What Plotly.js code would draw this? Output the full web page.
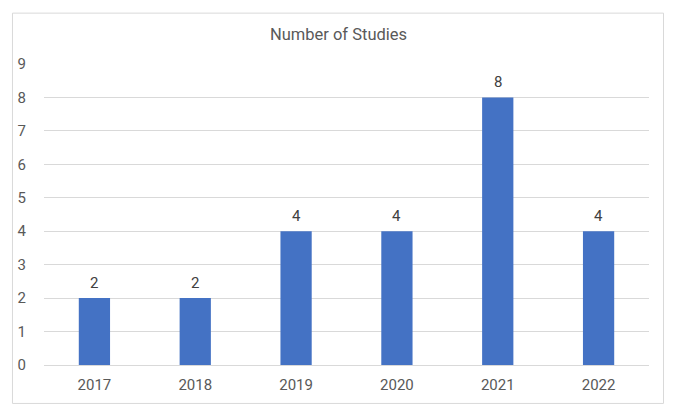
<!DOCTYPE html>
<html>
<head>
<meta charset="utf-8">
<script src="https://cdn.plot.ly/plotly-3.0.1.min.js"></script>
<style>html,body{margin:0;padding:0;background:#fff;}#chart{width:677px;height:416px;}</style>
</head>
<body>
<div id="chart"></div>
<script>
const years = ['2017', '2018', '2019', '2020', '2021', '2022'];
const studies = [2, 2, 4, 4, 8, 4];
const yTicks = [0, 1, 2, 3, 4, 5, 6, 7, 8, 9];

const fontFamily = 'Roboto, "Liberation Sans", sans-serif';
const trace = {
  type: 'bar',
  x: years,
  y: studies,
  marker: {color: '#4472C4'},
  width: 0.31,
  hoverinfo: 'x+y'
};
// category axis: annotation x given as category index
const labels = years.map((yr, i) => ({
  x: i, y: studies[i], xref: 'x', yref: 'y',
  text: String(studies[i]), showarrow: false,
  yanchor: 'bottom', yshift: 4,
  font: {family: fontFamily, size: 15, color: '#404040'}
}));
const layout = {
  width: 677, height: 416,
  margin: {l: 44, r: 28, t: 63.5, b: 51},
  paper_bgcolor: '#fff', plot_bgcolor: '#fff',
  showlegend: false,
  title: {text: 'Number of Studies', x: 0.5, xanchor: 'center', y: 0.918, yanchor: 'middle',
          font: {family: fontFamily, size: 16.5, color: '#595959'}},
  xaxis: {type: 'category', range: [-0.5, years.length - 0.5], showgrid: false, zeroline: false,
          showline: true, linecolor: '#d9d9d9', linewidth: 1,
          ticks: 'outside', ticklen: 6, tickcolor: 'rgba(0,0,0,0)',
          tickfont: {family: fontFamily, size: 15, color: '#595959'}},
  yaxis: {range: [0, 9], tickvals: yTicks, showgrid: true, gridcolor: '#d9d9d9', zeroline: false,
          showline: false, ticks: 'outside', ticklen: 14, tickcolor: 'rgba(0,0,0,0)',
          tickfont: {family: fontFamily, size: 15, color: '#595959'}},
  annotations: labels,
  shapes: [{type: 'rect', xref: 'paper', yref: 'paper',
            x0: -0.0521, x1: 1.024, y0: -0.1277, y1: 1.169,
            line: {color: '#d9d9d9', width: 1}, fillcolor: 'rgba(0,0,0,0)', layer: 'below'}]
};
Plotly.newPlot('chart', [trace], layout, {displayModeBar: false, staticPlot: true});
</script>
</body>
</html>
